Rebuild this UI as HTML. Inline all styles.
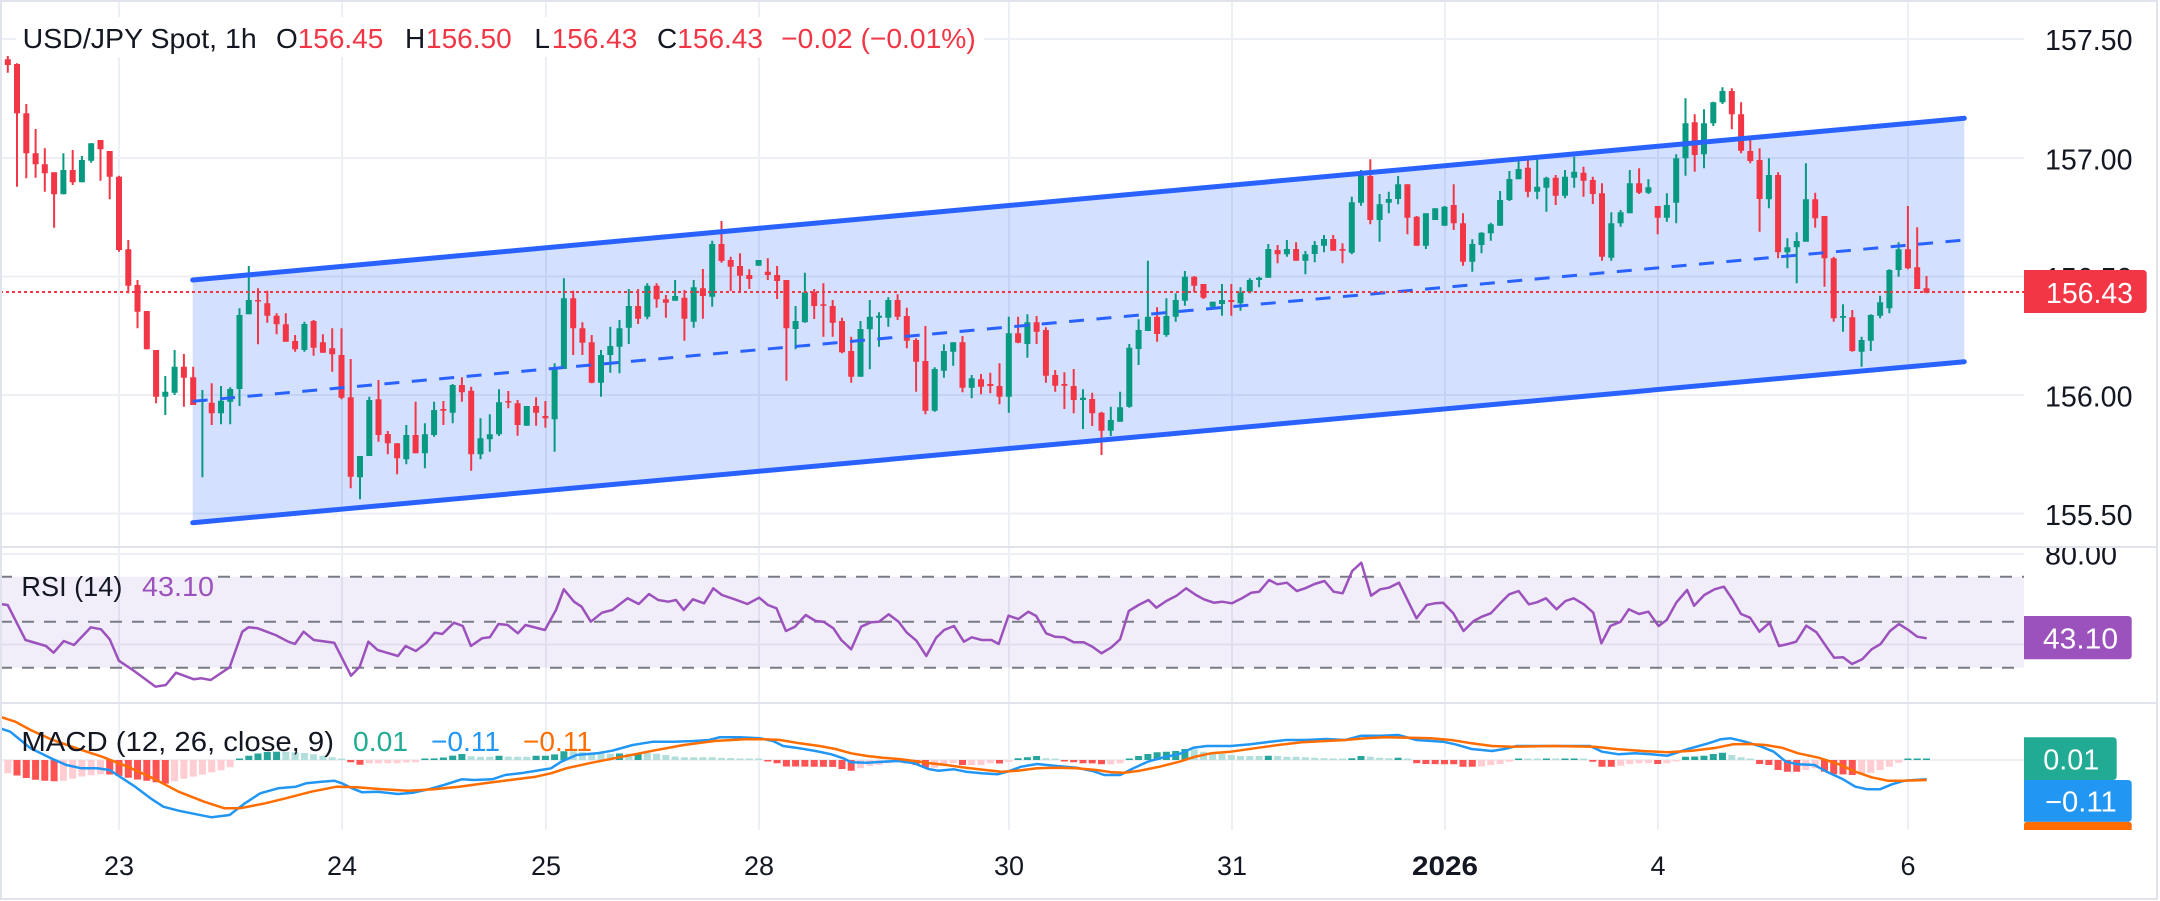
<!DOCTYPE html>
<html><head><meta charset="utf-8"><title>USD/JPY Spot 1h</title>
<style>
html,body{margin:0;padding:0;background:#fff;}
svg{display:block;font-family:"Liberation Sans",Arial,sans-serif;}
</style></head>
<body>
<svg width="2160" height="901" viewBox="0 0 2160 901" xmlns="http://www.w3.org/2000/svg">
<defs>
<clipPath id="rsiAxis"><rect x="2024" y="548" width="136" height="154"/></clipPath>
<clipPath id="macdAxis"><rect x="2024" y="704" width="136" height="126"/></clipPath>
</defs>
<rect x="0" y="0" width="2160" height="901" fill="#fff"/>

<!-- gridlines -->
<g stroke="#eceff3" stroke-width="2" fill="none">
<path d="M119 0V830M342 0V830M546 0V830M759 0V830M1009 0V830M1232 0V830M1445 0V830M1658 0V830M1908 0V830"/>
<path d="M0 39H2024M0 158H2024M0 276.5H2024M0 395H2024M0 513.5H2024M0 554H2024M0 644.5H2024M0 760H2024"/>
</g>

<!-- title legend background -->
<rect x="16" y="17" width="968" height="40" fill="#fff"/>

<!-- channel fill -->
<polygon points="192.7,280 1964.3,118.3 1964.3,361.7 192.7,522.7" fill="rgba(41,98,255,0.2)"/>

<!-- candles -->
<path fill="none" stroke="#089981" stroke-width="2" d="M-1.5 59.3V65M63.4 153.3V194.3M81.9 156V182.3M91.2 143.3V162.7M165.3 376V415M174.6 350V395M202.4 390V477.3M221 386V424.3M230.2 387.3V424.3M239.5 308.3V406M248.8 266V314.3M304.4 321.7V351.7M360 456V499.3M369.3 396.7V456M406.3 425V464.3M424.9 423.3V468.3M434.1 401.7V436.7M452.7 384V423.3M480.5 418.3V459.3M489.8 414.3V451.7M499 389.3V436M526.8 406V425.7M554.6 363.3V451.7M563.9 278.3V369M601 350V396.7M610.3 326.7V372.7M619.5 320V373.3M628.8 289V344M647.3 283.3V319.3M675.1 280V300.7M693.7 280V327.7M712.2 240.7V306.7M758.6 260V265.7M795.6 306V349.3M804.9 272.7V322.7M860.5 321V376.7M869.8 300V369.3M879 312.3V346.7M888.3 297.3V326.7M934.7 367.3V411.7M943.9 344.3V377.7M953.2 342.3V365.7M971.7 375V398.3M1008.8 316.7V412.7M1027.4 314.3V357.7M1083 389.3V429M1110.8 406.7V436M1120.1 391.7V421.7M1129.3 344V407.7M1138.6 319.3V365M1147.9 260.7V331M1166.4 298.3V336.7M1175.7 293.3V321.7M1184.9 271V305.7M1212.7 301.7V307.3M1222 284V315.7M1240.5 287.3V310.7M1249.8 278.3V293.3M1259.1 276.7V287.3M1268.3 244V277.7M1286.9 240V256.7M1305.4 251V274.3M1314.7 241V262.3M1324 235V252.3M1351.8 196.7V254.3M1361 170V205.7M1379.6 194V241.7M1388.8 191.7V213.3M1398.1 176V204.3M1425.9 213.3V249M1435.2 208.3V220M1444.5 206V225.7M1472.3 239.3V271.7M1481.5 232.3V253.3M1490.8 222.7V240.7M1500.1 191V225.7M1509.4 171V201M1518.6 158.3V179.3M1537.2 157.7V199.3M1546.4 176.7V211.7M1565 170V198.3M1574.2 156.7V187.7M1611.3 212.3V260.7M1620.6 210V226.7M1629.8 170V213.3M1648.4 179.3V194M1666.9 193.3V221.7M1676.2 154.3V223.3M1685.5 98.3V175.7M1704 109.3V168.3M1713.3 101.7V126M1722.5 87.3V104M1768.9 158.3V208.3M1787.4 238.3V268.3M1796.7 232.3V283.3M1805.9 163.3V241.7M1843 304.3V331.7M1861.6 336.7V366.7M1870.8 314.3V351M1880.1 295.7V318.3M1889.4 269.3V313.3M1898.6 242.3V276.7"/>
<path fill="none" stroke="#089981" stroke-width="6" d="M-1.5 59.3V65M63.4 170V194.3M81.9 160V182.3M91.2 143.3V160.7M165.3 391.7V396.7M174.6 366.7V392.7M202.4 400V402M221 400.7V413.3M230.2 389V401.7M239.5 315V389M248.8 300V314.3M304.4 324V350M360 456V477.3M369.3 400V456M406.3 435V459.3M424.9 434.3V453.3M434.1 410V435M452.7 385V412.7M480.5 438.3V454.3M489.8 434.3V439.3M499 402.3V434.3M526.8 406V425.7M554.6 368.3V419.3M563.9 298.3V369M601 355V382.7M610.3 346V355M619.5 328.3V346.7M628.8 306V327.7M647.3 285.7V316.7M675.1 296V300.7M693.7 287.3V321.7M712.2 244V296.7M758.6 260V265.7M795.6 321V329M804.9 292.3V322.3M860.5 329V376.7M869.8 316.7V329.3M879 315.7V317.7M888.3 300V317.7M934.7 369V410.7M943.9 351V370.7M953.2 342.3V351.7M971.7 378.3V387.7M1008.8 333.3V396.7M1027.4 322.3V344M1083 397.7V400M1110.8 420V430.7M1120.1 407.3V421.7M1129.3 347.7V406.7M1138.6 330V349M1147.9 316.7V331M1166.4 316V335M1175.7 300V316.7M1184.9 276.7V300.7M1212.7 301.7V306.7M1222 300V304M1240.5 292.3V303.3M1249.8 280V291.7M1259.1 277.7V280M1268.3 249V277.7M1286.9 249V254.3M1305.4 254.3V260.7M1314.7 245V254M1324 239V245.7M1351.8 202.3V252.7M1361 175.7V202.7M1379.6 204.3V220M1388.8 199V202.7M1398.1 184.3V199M1425.9 213.3V245.7M1435.2 208.3V220M1444.5 206.7V225.7M1472.3 244V261.7M1481.5 232.7V245M1490.8 224.3V233.3M1500.1 200V225.7M1509.4 179V200M1518.6 169V179.3M1537.2 186.7V191.7M1546.4 177.7V187.7M1565 176.7V195.7M1574.2 171.7V177.7M1611.3 223.3V257.7M1620.6 212.3V223.3M1629.8 183.3V213.3M1648.4 187.3V192.7M1666.9 205V217.7M1676.2 158.3V202.7M1685.5 123.3V158.3M1704 123.3V154.3M1713.3 102.3V123.3M1722.5 91V102.3M1768.9 175V199.3M1787.4 247.3V252.3M1796.7 241V247.3M1805.9 199.3V241.7M1843 316V317.7M1861.6 340V351.7M1870.8 315V340.7M1880.1 302.3V315.7M1889.4 270V308.3M1898.6 249.3V270"/>
<path fill="none" stroke="#f23645" stroke-width="2" d="M7.8 56V72.7M17 63.3V186.7M26.3 104V178.3M35.6 129V177.7M44.8 148.3V191.7M54.1 172.3V227.7M72.7 150V185M100.5 140V180.7M109.7 151V199.3M119 175.7V251.7M128.3 240V293.3M137.5 280V328.3M146.8 311V349.3M156.1 350V403.3M183.9 354V406.7M193.2 366.7V405M211.7 383.3V425M258 288.3V344.3M267.3 290.7V322.7M276.6 313.3V334.3M285.8 313.3V341.7M295.1 335V351.7M313.6 320V355.7M322.9 334.3V352.7M332.2 328.3V371.7M341.5 328.3V399.3M350.7 359V488.3M378.5 380V441.7M387.8 431V454.3M397.1 443.3V474.3M415.6 401.7V453.3M443.4 401V425M461.9 377.3V401.7M471.2 386.7V470.7M508.3 391V408.3M517.6 400V435.7M536.1 397.3V425.7M545.4 401V427.7M573.2 290.7V355M582.4 322.3V355M591.7 335V383.3M638.1 289V324M656.6 283.3V307.7M665.9 295V317.7M684.4 290V340.7M702.9 269V318.7M721.5 221V262.7M730.7 256.7V291M740 253.3V291M749.3 269.3V289M767.8 258.3V280M777.1 266V299M786.4 280V380.7M814.2 289V319M823.4 283.3V336.7M832.7 300V336.7M842 317.7V353.3M851.2 336.7V382.7M897.6 294.3V320M906.8 307.7V348.3M916.1 338.3V391.7M925.4 326V414.3M962.5 336V392.3M981 374V394.3M990.3 372.7V393.3M999.5 363.3V404.3M1018.1 316.7V343.3M1036.6 316V344M1045.9 327.3V382.7M1055.2 370V391.7M1064.4 372.3V409M1073.7 369V413.3M1092.2 392.7V426M1101.5 411.7V455M1157.1 307.3V341.7M1194.2 276V292.3M1203.5 284V299M1231.3 284V315.7M1277.6 245V263.3M1296.1 242.3V260.7M1333.2 235V250.7M1342.5 243.3V263.3M1370.3 159.3V224.3M1407.4 184.3V234.3M1416.7 216V245.7M1453.7 184.3V230M1463 213.3V265.7M1527.9 158.3V197.3M1555.7 175V205M1583.5 166.7V196.7M1592.8 176.7V204M1602 183.3V260.7M1639.1 168.3V194M1657.7 206V234.3M1694.7 114.3V171.7M1731.8 88.3V129.3M1741.1 102.3V153.3M1750.3 138.3V163.3M1759.6 148.3V231.7M1778.1 172.3V258.3M1815.2 192.7V227.7M1824.5 216V286.7M1833.7 256.7V321.7M1852.3 310V351.7M1907.9 206V269.3M1917.2 227.3V289M1926.5 276V293.3"/>
<path fill="none" stroke="#f23645" stroke-width="6" d="M7.8 59.3V65M17 64V113.3M26.3 113.3V153.3M35.6 153.3V164.3M44.8 164.3V173.3M54.1 172.3V194.3M72.7 170V182.3M100.5 140V149.3M109.7 151V176.7M119 176.7V250M128.3 249.3V285.7M137.5 285V311.7M146.8 311V349.3M156.1 350V396.7M183.9 366.7V377.7M193.2 377.3V405M211.7 402.7V413.3M258 300V301.5M267.3 303.3V315.7M276.6 315.7V324.3M285.8 324.3V341.7M295.1 341V349.3M313.6 321V347.7M322.9 342.3V352.7M332.2 348.3V354.3M341.5 355V397.7M350.7 397.3V476.7M378.5 399.3V435M387.8 434V443.3M397.1 443.3V458.3M415.6 435V453.3M443.4 409V410.7M461.9 385V392.3M471.2 390.7V454.3M508.3 401V402.5M517.6 403.3V425M536.1 406V412.7M545.4 416V418.3M573.2 298.3V328.3M582.4 328.3V342.7M591.7 342.3V382.7M638.1 306V318.7M656.6 285.7V299.3M665.9 299.3V302.7M684.4 297.7V318.7M702.9 288.3V296M721.5 244V261M730.7 260V266.7M740 266V275.7M749.3 275V279M767.8 271.7V275M777.1 275V281M786.4 280V328.3M814.2 292.3V306M823.4 304.3V305.8M832.7 306V322.7M842 321V352.3M851.2 351V376.7M897.6 300V316.7M906.8 316V340.7M916.1 340V361.7M925.4 361V410.7M962.5 342.3V387.7M981 379.3V386.7M990.3 384V386M999.5 386V396.7M1018.1 333.3V342.7M1036.6 322.3V331.7M1045.9 330V375.7M1055.2 375V385.7M1064.4 384V385.7M1073.7 386V400M1092.2 399V413.3M1101.5 412.7V430.7M1157.1 316.7V334M1194.2 276.7V285.7M1203.5 284V297.7M1231.3 300V302M1277.6 250V254.3M1296.1 249V260.7M1333.2 239V250.7M1342.5 249V250.7M1370.3 176V220M1407.4 184.3V217.7M1416.7 216.7V245.7M1453.7 205V223.3M1463 223.3V261.7M1527.9 167.7V191.7M1555.7 177.7V195.7M1583.5 172.7V180.7M1592.8 180V194M1602 193.3V256.7M1639.1 183.3V192.7M1657.7 206V217.7M1694.7 122.3V155M1731.8 91V114.3M1741.1 114.3V150.7M1750.3 151V161M1759.6 160V199M1778.1 175V252.3M1815.2 199.3V218.3M1824.5 216V258.3M1833.7 258.3V318.3M1852.3 317.3V351M1907.9 249.3V268.3M1917.2 267.3V289M1926.5 288.3V292.7"/>

<!-- channel lines -->
<g stroke="#2962ff" fill="none" stroke-linecap="round">
<line x1="192.7" y1="280" x2="1964.3" y2="118.3" stroke-width="5"/>
<line x1="192.7" y1="522.7" x2="1964.3" y2="361.7" stroke-width="5"/>
<line x1="192.7" y1="401.3" x2="1962" y2="240.2" stroke-width="3" stroke-dasharray="15 12.5" stroke-linecap="butt"/>
</g>

<!-- last price dotted line -->
<line x1="0" y1="292" x2="2024" y2="292" stroke="#f23645" stroke-width="2" stroke-dasharray="3 3"/>

<!-- RSI pane -->
<rect x="0" y="576.7" width="2024" height="91" fill="rgba(126,87,194,0.1)"/>
<g stroke="#787b86" stroke-width="2" stroke-dasharray="12 10" fill="none">
<path d="M0 576.7H16M218 576.7H2024"/>
<path d="M0 621.7H2024"/>
<path d="M0 667.7H2024"/>
</g>
<polyline fill="none" stroke="#9c52bd" stroke-width="2.5" stroke-linejoin="round" points="0,604 7.7,605 25.5,640 46,646 53.6,652.7 63.8,641 74,645 90.8,627.3 101,629.3 109.7,639.3 118.9,660.7 135.2,671.7 155.6,686.7 165.8,685 176,672.7 193.9,679.3 201.5,678.3 210.7,680 229.6,667.3 242.3,631.7 248.5,627.3 257.7,628.3 275.5,635 288.3,641.7 294.9,644 303.6,631.7 313.8,640 334.2,642.7 351,675.7 359.7,666.7 368.4,641.7 377.6,650 398,656 405.6,646 415.8,651 426,643.3 434.7,632.7 442.3,634 454,622.7 462.8,626 470.9,646 482.1,638.3 489.8,637.3 498.5,624 507.7,625 517.9,633.3 525.5,625 544.9,630 556,610 563.8,589.3 574,601.7 581.6,606.7 590.8,621.7 602,612.7 612.2,610 627.6,598.3 638.8,604 649,594 658.2,600 668.4,601.7 676,600 683.7,610 692.9,599.3 704.1,603.3 713.3,588.3 721.9,595 734.7,599.3 747.4,604 759.2,597.7 767.9,605 776.5,608.3 785.9,631 795,626.7 805.7,615 815.6,621 823.5,621.7 833.4,628.3 841.3,640 851.2,649.3 861.1,626.7 870.9,622.3 878.9,621.7 888.7,614.3 898.6,621.7 906.5,632.3 916.4,640.7 926.3,656 936.2,637.7 944.1,630 954,626 963.9,641.7 971.8,637.3 981.7,640 991.5,640 998.7,644 1008.5,615.7 1018.4,619 1028.3,611.7 1036.2,616 1046.1,633.3 1054.8,636.7 1063.9,637.3 1073.8,642.3 1083.7,642.3 1092.4,646.7 1101.5,653.3 1111.4,647.3 1120.1,639.3 1128.8,611 1138.6,605 1148.5,600 1156.4,607.7 1166.3,601 1176.6,595.7 1186.1,588.3 1196,595 1203.9,599.3 1213.8,602.7 1222.1,601.7 1232,603.3 1241.9,598.3 1251.3,592.7 1259.2,591.7 1269.1,580 1277.4,584.3 1286.9,582.7 1296.8,591 1305.1,588.3 1314.6,584 1324.5,581 1333.6,591.7 1342.7,593.3 1352.2,571 1361.3,562.7 1371.1,595.7 1380.2,589.3 1388.9,587.7 1399,582.7 1416.5,618.3 1426.7,605 1434.9,603.3 1443.1,602.7 1453.3,613.3 1463.5,631 1473.7,621 1481.8,616.7 1490.8,613.3 1500.2,603.3 1509.2,594.3 1518.6,591 1528.8,604.3 1536.9,602.3 1545.9,598.3 1556.5,609.3 1565.5,601 1573.7,598.3 1583.9,604.3 1593.3,612.7 1601.4,643.3 1610.4,626 1620.6,621.7 1628.8,609.3 1639,614 1648.4,611.7 1658.6,626 1666.7,620 1676.5,602.3 1687.1,590 1694.1,605.7 1704.3,595 1714.5,589.3 1723.9,586.7 1732.9,600 1741,614 1750,617.7 1759.4,631.7 1769.6,622.7 1779,646 1788,644 1796.1,641.7 1806.3,625.7 1816.5,632.3 1824.7,644.3 1834.1,657.7 1843.1,657.3 1852,664 1862.2,659.3 1871.6,649.3 1880.6,644 1890,631 1899,624 1908.4,630 1917.3,636.7 1926.7,638.3"/>

<!-- MACD histogram -->
<path fill="none" stroke="#26a69a" stroke-width="7" d="M239.5 760V758.5M248.8 760V755.7M258 760V753.5M267.3 760V752M276.6 760V751.7M424.9 760V758.5M434.1 760V758.4M443.4 760V757.5M452.7 760V755.6M461.9 760V754M499 760V755.7M536.1 760V755.8M545.4 760V755.7M554.6 760V754.4M563.9 760V751.2M619.5 760V753.5M638.1 760V753M1018.1 760V758.3M1027.4 760V757.3M1036.6 760V756M1129.3 760V758.5M1138.6 760V756M1147.9 760V754M1157.1 760V752.3M1166.4 760V751.7M1175.7 760V751M1184.9 760V749M1268.3 760V755.7M1351.8 760V758.3M1361 760V756M1398.1 760V757.7M1518.6 760V758.5M1546.4 760V758.5M1565 760V758.5M1574.2 760V758.5M1685.5 760V756.7M1694.7 760V756.5M1704 760V755.7M1713.3 760V754M1722.5 760V752.7M1907.9 760V758.5M1917.2 760V758.5M1926.5 760V758.5"/>
<path fill="none" stroke="#b2dfdb" stroke-width="7" d="M285.8 760V751.7M295.1 760V752.2M304.4 760V753M313.6 760V754.2M322.9 760V755.8M332.2 760V757.3M341.5 760V758.5M471.2 760V756.3M480.5 760V756.7M489.8 760V756.7M508.3 760V756.6M517.6 760V756.7M526.8 760V756.7M573.2 760V751.2M582.4 760V751.9M591.7 760V752.7M601 760V753.5M610.3 760V753.7M628.8 760V753.7M647.3 760V753M656.6 760V753.7M665.9 760V755M675.1 760V756.5M684.4 760V757.3M693.7 760V757.3M702.9 760V757.3M712.2 760V757.3M721.5 760V757.9M730.7 760V758M740 760V758.5M749.3 760V758.5M758.6 760V758.5M1045.9 760V758.3M1055.2 760V758.5M1194.2 760V749.3M1203.5 760V751.7M1212.7 760V753.3M1222 760V754M1231.3 760V755M1240.5 760V756M1249.8 760V756M1259.1 760V756M1277.6 760V756M1286.9 760V756.7M1296.1 760V756.7M1305.4 760V757.3M1314.7 760V757.7M1324 760V758.3M1333.2 760V758.5M1342.5 760V758.5M1370.3 760V756.7M1379.6 760V757.7M1388.8 760V758.3M1407.4 760V758.5M1527.9 760V758.5M1537.2 760V758.5M1555.7 760V758.5M1583.5 760V758.5M1731.8 760V755M1741.1 760V757.3M1750.3 760V758.5"/>
<path fill="none" stroke="#ff5252" stroke-width="7" d="M17 760V775.5M26.3 760V778M35.6 760V779.8M44.8 760V780.8M54.1 760V781.3M109.7 760V774.5M119 760V775.9M128.3 760V777.8M137.5 760V779.5M146.8 760V780.7M156.1 760V782.2M165.3 760V783.6M350.7 760V762.3M360 760V764.7M767.8 760V761.5M777.1 760V763.3M786.4 760V766.5M795.6 760V766.5M804.9 760V766.6M814.2 760V766.7M823.4 760V766.8M832.7 760V766.9M842 760V769M851.2 760V770.7M906.8 760V763.3M916.1 760V765M925.4 760V767.7M962.5 760V765M999.5 760V763.5M1064.4 760V761.5M1073.7 760V762.3M1083 760V763.3M1092.2 760V763.4M1101.5 760V764.3M1416.7 760V763.3M1425.9 760V764M1435.2 760V764.1M1444.5 760V764.2M1453.7 760V764.3M1463 760V766.7M1472.3 760V766.8M1592.8 760V761.7M1602 760V766.7M1611.3 760V766.8M1657.7 760V764M1759.6 760V764M1768.9 760V765M1778.1 760V770M1787.4 760V771.7M1796.7 760V771.8M1824.5 760V771.7M1833.7 760V774.3M1843 760V774.4M1852.3 760V775"/>
<path fill="none" stroke="#ffcdd2" stroke-width="7" d="M7.8 760V773.4M63.4 760V780.8M72.7 760V778.6M81.9 760V776.5M91.2 760V775.2M100.5 760V774.3M174.6 760V781.3M183.9 760V778.8M193.2 760V776.6M202.4 760V774.6M211.7 760V772.4M221 760V770.4M230.2 760V767.3M369.3 760V763.4M378.5 760V763.3M387.8 760V763.3M397.1 760V763.3M406.3 760V762.4M415.6 760V762.3M860.5 760V768.3M869.8 760V766M879 760V765M888.3 760V763.3M897.6 760V762.3M934.7 760V767.7M943.9 760V765M953.2 760V763.3M971.7 760V765M981 760V765M990.3 760V763.3M1008.8 760V761.7M1110.8 760V764.3M1120.1 760V763.3M1481.5 760V766.5M1490.8 760V765M1500.1 760V764M1509.4 760V761.7M1620.6 760V765.7M1629.8 760V764M1639.1 760V763.3M1648.4 760V763.3M1666.9 760V763.3M1676.2 760V761.5M1805.9 760V770M1815.2 760V768.3M1861.6 760V774.3M1870.8 760V772.7M1880.1 760V770M1889.4 760V766.7M1898.6 760V762.7"/>

<!-- MACD line & signal -->
<polyline fill="none" stroke="#2196f3" stroke-width="2.5" stroke-linejoin="round" points="0,728.3 10.2,731.7 20.4,740 30.6,748.3 40.8,753.3 51,758.3 66.3,765 81.6,768.3 96.9,768.3 109.7,770 122.4,778.3 135.2,786.7 150.5,798.3 163.3,806.7 178.6,810.7 196.4,814.3 211.7,817.3 229.6,815 244.9,803.3 260.2,793.3 278.1,788.3 295.9,786.7 306.1,783.3 321.4,781.7 334.2,780.7 341.8,783.3 352,788.3 362.2,792.3 377.6,791.7 398,794 413.3,792.7 428.6,789.3 443.9,785 461.7,779.3 474.5,780 492.3,779.3 505.1,775 520.4,773.3 540.8,770 551,768.3 561.2,761.7 576.5,755 597,753.3 612.2,750.7 632.7,745 653.1,741.7 673.5,741.7 693.9,741 709.2,740 719.4,737.3 739.8,737.3 760.2,738.3 773,741 783.2,746 795.8,747.7 815.6,751 831.4,754.3 843.3,758.3 851.2,762.3 867,762.7 882.8,761.7 898.6,761 914.4,763.3 928.3,769 938.2,770.7 954,769.3 965.8,771.7 981.7,773.3 997.5,774.3 1007.4,771.7 1021.2,766.7 1037,764 1056.8,766 1076.6,767.7 1092.4,771 1104.2,775 1120.1,775 1131.9,769 1147.7,761.7 1163.5,757.3 1179.4,754 1193.2,747.7 1206.9,746 1230.8,746 1250.5,744.3 1270.3,741.7 1286.1,740 1305.9,740 1325.7,739 1345.4,740 1361.3,735.7 1381,735.7 1398.2,735 1416.5,740 1443.1,741.7 1455.3,744.3 1471.6,749 1492,751 1504.3,749 1516.5,746 1553.3,746 1590,746 1602.2,751.7 1618.6,754.3 1634.9,753.3 1651.2,754.3 1667.6,755.7 1688,749 1708.4,743.3 1720.6,739.3 1730.8,738.3 1745.1,741.7 1761.4,746.7 1773.7,751.7 1785.9,761.7 1798.2,764.3 1814.5,765 1826.7,771.7 1843.1,779.3 1855.3,786.7 1867.6,789.3 1879.8,789.3 1892,784.3 1904.3,780.7 1926.7,779.3"/>
<polyline fill="none" stroke="#ff6d00" stroke-width="2.5" stroke-linejoin="round" points="0,716.7 15.3,721.7 30.6,730 51,739.3 76.5,748.3 102,756.7 127.6,766.7 153.1,778.3 178.6,791.7 204.1,801.7 224.5,808.3 239.8,808.3 265.3,803.3 285.7,798.3 311.2,791.7 336.7,786.7 357.1,787.3 382.7,789.3 408.2,790.7 433.7,789.3 459.2,786.7 484.7,783.3 510.2,780 535.7,776.7 551,773.3 566.3,768.3 591.8,762.7 622.4,756.7 653.1,750.7 683.7,745 714.3,741 744.9,739.3 765.3,739.3 780,740 799.8,743.3 819.5,746 835.4,749 851.2,753.3 867,756 882.8,757.7 898.6,759 914.4,761 930.3,763.3 946.1,765 965.8,767.7 985.6,770 1001.4,771.7 1017.2,770.7 1037,768.3 1056.8,767.7 1076.6,768.3 1096.3,770 1112.1,772.3 1124,772.7 1139.8,770.7 1159.6,766.7 1179.4,761.7 1195.2,756.7 1211,753.3 1230.8,751.7 1254.5,748.3 1278.2,745 1301.9,742.3 1325.7,741 1345.4,740 1365.2,738.3 1385,737.3 1410.4,737.7 1430.8,738.3 1451.2,740 1471.6,743.3 1492,746 1512.4,746.7 1553.3,746 1594.1,746.7 1618.6,749.3 1643.1,751 1667.6,752.3 1692,750.7 1716.5,747.7 1732.9,744.3 1749.2,744 1765.5,745 1781.8,747.7 1798.2,753.3 1818.6,757.7 1839,764.3 1855.3,771.7 1871.6,777.3 1887.8,780.7 1904.3,780.7 1926.7,780"/>

<!-- pane separators -->
<g stroke="#e0e3eb" stroke-width="2">
<line x1="0" y1="547" x2="2157" y2="547"/>
<line x1="0" y1="703" x2="2157" y2="703"/>
</g>

<!-- legends -->
<g font-size="28">
<text x="22.7" y="48" fill="#131722" textLength="234" lengthAdjust="spacingAndGlyphs">USD/JPY Spot, 1h</text>
<text x="276" y="48" fill="#131722">O</text>
<text x="297.7" y="48" fill="#f23645">156.45</text>
<text x="405" y="48" fill="#131722">H</text>
<text x="426" y="48" fill="#f23645">156.50</text>
<text x="534.4" y="48" fill="#131722">L</text>
<text x="551.7" y="48" fill="#f23645">156.43</text>
<text x="657" y="48" fill="#131722">C</text>
<text x="677.3" y="48" fill="#f23645">156.43</text>
<text x="781.2" y="48" fill="#f23645" textLength="194.6" lengthAdjust="spacingAndGlyphs">−0.02 (−0.01%)</text>

<text x="21.4" y="596" fill="#131722" textLength="101" lengthAdjust="spacingAndGlyphs">RSI (14)</text>
<text x="142" y="596" fill="#9c52bd" textLength="72" lengthAdjust="spacingAndGlyphs">43.10</text>

<text x="21.4" y="751" fill="#131722" textLength="312.6" lengthAdjust="spacingAndGlyphs">MACD (12, 26, close, 9)</text>
<text x="353" y="751" fill="#22ab94" textLength="55" lengthAdjust="spacingAndGlyphs">0.01</text>
<text x="431" y="751" fill="#2196f3" textLength="69" lengthAdjust="spacingAndGlyphs">−0.11</text>
<text x="523" y="751" fill="#ff6d00" textLength="69" lengthAdjust="spacingAndGlyphs">−0.11</text>
</g>

<!-- price axis -->
<g font-size="28.5" fill="#131722">
<text x="2045" y="50" textLength="87.5" lengthAdjust="spacingAndGlyphs">157.50</text>
<text x="2045" y="169.5" textLength="87.5" lengthAdjust="spacingAndGlyphs">157.00</text>
<text x="2045" y="288" textLength="87.5" lengthAdjust="spacingAndGlyphs">156.50</text>
<text x="2045" y="406.5" textLength="87.5" lengthAdjust="spacingAndGlyphs">156.00</text>
<text x="2045" y="525" textLength="87.5" lengthAdjust="spacingAndGlyphs">155.50</text>
<text x="2045" y="564.5" textLength="72" lengthAdjust="spacingAndGlyphs" clip-path="url(#rsiAxis)">80.00</text>
</g>

<!-- axis value labels -->
<path d="M2024 270H2142.7Q2146.7 270 2146.7 274V309Q2146.7 313 2142.7 313H2024Z" fill="#f23645"/>
<text x="2046" y="303" font-size="28.5" fill="#fff" textLength="87" lengthAdjust="spacingAndGlyphs">156.43</text>

<path d="M2024 616H2127.7Q2131.7 616 2131.7 620V655.3Q2131.7 659.3 2127.7 659.3H2024Z" fill="#9c52bd"/>
<text x="2043" y="648.5" font-size="28.5" fill="#fff" textLength="75" lengthAdjust="spacingAndGlyphs">43.10</text>

<g clip-path="url(#macdAxis)">
<path d="M2024 737.3H2112.7Q2116.7 737.3 2116.7 741.3V776Q2116.7 780 2112.7 780H2024Z" fill="#22ab94"/>
<text x="2043.3" y="769.5" font-size="28.5" fill="#fff" textLength="56" lengthAdjust="spacingAndGlyphs">0.01</text>
<rect x="2024" y="821.7" width="107.7" height="12" rx="3" fill="#ff6d00"/>
<path d="M2024 780H2127.7Q2131.7 780 2131.7 784V817.7Q2131.7 821.7 2127.7 821.7H2024Z" fill="#2196f3"/>
<text x="2045" y="811.5" font-size="28.5" fill="#fff" textLength="71.7" lengthAdjust="spacingAndGlyphs">−0.11</text>
</g>

<!-- time axis -->
<g font-size="27" fill="#131722" text-anchor="middle">
<text x="119" y="875">23</text>
<text x="342" y="875">24</text>
<text x="546" y="875">25</text>
<text x="759" y="875">28</text>
<text x="1009" y="875">30</text>
<text x="1232" y="875">31</text>
<text x="1445" y="875" font-weight="bold" textLength="66" lengthAdjust="spacingAndGlyphs">2026</text>
<text x="1658" y="875">4</text>
<text x="1908" y="875">6</text>
</g>

<!-- outer border -->
<rect x="1" y="1" width="2156" height="898" fill="none" stroke="#e0e3eb" stroke-width="2"/>
</svg>
</body></html>
